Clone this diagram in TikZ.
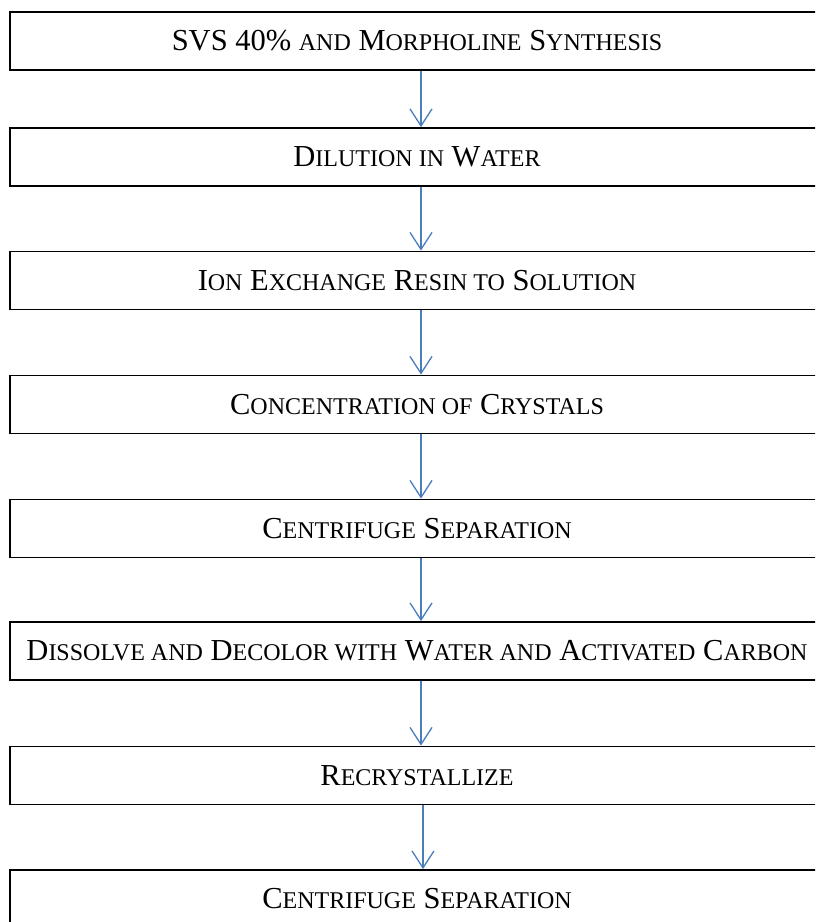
\documentclass[tikz,border=0pt]{standalone}
\usepackage{fontspec}
\setmainfont{Liberation Serif}
\usetikzlibrary{arrows.meta}

% word style small caps: lower case set as smaller capitals
\newcommand{\smc}[1]{{\fontsize{24pt}{26pt}\selectfont #1}}

\tikzset{
  stepbox/.style={draw,line width=1.8pt,minimum width=814pt,minimum height=58pt,
    inner sep=0pt,font=\fontsize{30.5pt}{32pt}\selectfont},
  flow/.style={draw,line width=1.3pt,color=arrowblue,
    -{Straight Barb[length=17pt,width=22pt,line width=1.3pt]}}
}
\definecolor{arrowblue}{RGB}{74,126,187}

\begin{document}
\begin{tikzpicture}[x=1pt,y=-1pt]
    \clip (0,0) rectangle (815,922);
    \useasboundingbox (0,0) rectangle (815,922);

    \node[stepbox] (syn) at (417,41) {SVS 40\% \smc{AND} M\smc{ORPHOLINE} S\smc{YNTHESIS}};
    \node[stepbox] (dil) at (417,157) {D\smc{ILUTION IN} W\smc{ATER}};
    \node[stepbox] (ion) at (417,280.5) {I\smc{ON} E\smc{XCHANGE} R\smc{ESIN TO} S\smc{OLUTION}};
    \node[stepbox] (con) at (417,404.5) {C\smc{ONCENTRATION OF} C\smc{RYSTALS}};
    \node[stepbox] (cenA) at (417,528.5) {C\smc{ENTRIFUGE} S\smc{EPARATION}};
    \node[stepbox] (dis) at (417,651) {D\smc{ISSOLVE AND} D\smc{ECOLOR WITH} W\smc{ATER AND} A\smc{CTIVATED} C\smc{ARBON}};
    \node[stepbox] (rec) at (417,775.5) {R\smc{ECRYSTALLIZE}};
    \node[stepbox] (cenB) at (417,899) {C\smc{ENTRIFUGE} S\smc{EPARATION}};

    \path[flow] ([xshift=4pt]syn.south) -- ([xshift=4pt]dil.north);
    \path[flow] ([xshift=4pt]dil.south) -- ([xshift=4pt]ion.north);
    \path[flow] ([xshift=4pt]ion.south) -- ([xshift=4pt]con.north);
    \path[flow] ([xshift=4pt]con.south) -- ([xshift=4pt]cenA.north);
    \path[flow] ([xshift=4pt]cenA.south) -- ([xshift=4pt]dis.north);
    \path[flow] ([xshift=4pt]dis.south) -- ([xshift=4pt]rec.north);
    \path[flow] ([xshift=6pt]rec.south) -- ([xshift=6pt]cenB.north);
\end{tikzpicture}
\end{document}
